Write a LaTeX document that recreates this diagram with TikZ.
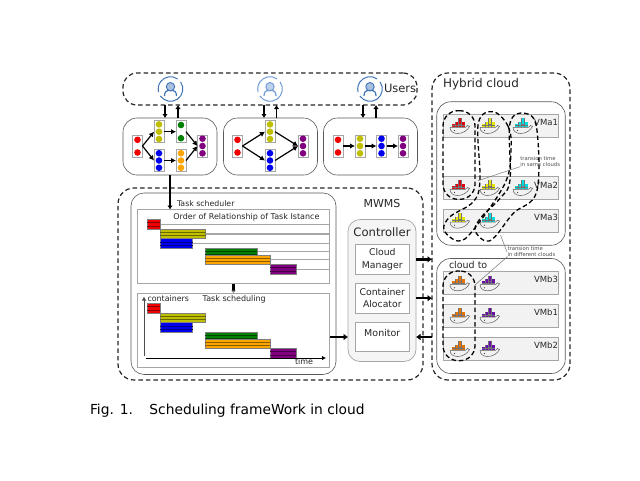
\documentclass[tikz,border=0pt]{standalone}
\usepackage{fontspec}
\setmainfont{DejaVu Sans}
\usetikzlibrary{arrows.meta}
\definecolor{taskred}{HTML}{F00000}
\definecolor{taskyellow}{HTML}{BFBF00}
\definecolor{taskblue}{HTML}{0000F0}
\definecolor{taskgreen}{HTML}{008000}
\definecolor{taskorange}{HTML}{FFA500}
\definecolor{taskpurple}{HTML}{800080}
\definecolor{ringblue}{HTML}{3F73B8}
\definecolor{ringpale}{HTML}{6F9AD6}
\definecolor{softgray}{HTML}{A6A6A6}
\definecolor{whalered}{HTML}{E00010}
\definecolor{whaleyellow}{HTML}{E6E600}
\definecolor{whalecyan}{HTML}{00DDE0}
\definecolor{whaleorange}{HTML}{E87400}
\definecolor{whalepurple}{HTML}{6A10A8}
\tikzset{
	dashbox/.style={draw=black!85, line width=1.2pt, dash pattern=on 4.5pt off 3pt, rounded corners=#1},
	panelbox/.style={draw=black!65, line width=0.6pt, rounded corners=#1},
	framebox/.style={draw=softgray, line width=1pt, fill=white, outer sep=0pt},
	taskbox/.style={draw=softgray, line width=0.7pt, fill=white, minimum width=10pt, minimum height=22pt, inner sep=0pt, outer sep=0pt},
	vmbox/.style={draw=softgray, line width=0.7pt, fill=black!5, minimum width=115pt, minimum height=23pt, inner sep=0pt, outer sep=0pt},
	flow/.style={-{Latex[length=4pt,width=5.5pt]}, line width=1.4pt, black},
	bigflow/.style={-{Latex[length=4.5pt,width=7pt]}, line width=2.4pt, black},
	edge/.style={-{Latex[length=5pt,width=5.5pt]}, line width=1.2pt, black},
	barbox/.style={draw=black!50, line width=0.5pt},
	loopline/.style={draw=black, line width=1.3pt, dash pattern=on 4.5pt off 2.8pt},
	noteline/.style={draw=black!55, line width=0.5pt},
	lbl/.style={inner sep=0pt, outer sep=0pt, font=\fontsize{#1}{#1}\selectfont, text=black!85},
	note/.style={inner sep=0pt, outer sep=0pt, font=\fontsize{5.3}{6.2}\selectfont, text=black!70, align=left},
	usericon/.pic={
		\draw[#1, line width=1pt] (55:12.3pt) arc (55:195:12.3pt);
		\draw[#1, line width=1pt] (215:12.3pt) arc (215:395:12.3pt);
		\draw[#1, line width=1.2pt] (-6,7) .. controls (-6,3) and (-4,1.5) .. (-2.5,1.5) -- (2.5,1.5) .. controls (4,1.5) and (6,3) .. (6,7);
		\draw[#1, fill=#1!45, line width=0.9pt] (0,-2.3) circle (4.2);
	},
	whale/.pic={
		\fill[#1] (-8,-3) rectangle (-5,0);
		\fill[#1] (-5,-5) rectangle (-2,0);
		\fill[#1] (-2,-8.7) rectangle (1.5,0);
		\fill[#1] (1.5,-5) rectangle (4.5,0);
		\draw[black!55, line width=0.25pt] (-8,-1.5) -- (4.5,-1.5) (-2,-3) -- (1.5,-3) (-5,-5) -- (-5,0) (-2,-8.7) -- (-2,0) (1.5,-8.7) -- (1.5,0);
		\draw[black!65, line width=0.5pt] (-10,0.3) -- (5.5,0.3) -- (7.5,-1.5) -- (9.5,-0.6) .. controls (7.5,3.5) and (3,6.5) .. (-2.5,6.5) .. controls (-7,6.5) and (-10,4) .. (-10,0.3);
		\fill[black!75] (-5.5,3.5) circle (0.6);
	},
}
\newcommand{\taskcol}[5]{
	\node[taskbox] (#1) at (#2,#3) {};
	\foreach \d in {#5}
		\fill[#4] (#2,#3+\d) circle (3.3);
}
\newcommand{\ganttbar}[5]{
	\draw[barbox, fill=#5] (#1,#3) rectangle (#2,{#3+#4});
	\draw[#5!55!black, line width=0.5pt] (#1,{#3+#4/3}) -- (#2,{#3+#4/3}) (#1,{#3+2*#4/3}) -- (#2,{#3+2*#4/3});
}
\begin{document}
\begin{tikzpicture}[x=1pt, y=-1pt]
	\useasboundingbox (0,0) rectangle (640,480);
	% users and workflows
	\node[dashbox=14pt, minimum width=294pt, minimum height=32pt, outer sep=0pt] (users) at (270,89) {};
	\path (170.5,89) pic {usericon=ringblue};
	\path (270,89) pic {usericon=ringpale};
	\path (370,89) pic {usericon=ringblue};
	\node[lbl=11.5, anchor=west] (userstxt) at (384,88.5) {Users};
	\node[panelbox=14pt, minimum width=94pt, minimum height=57pt, outer sep=0pt] (wfa) at (170,146.5) {};
	\node[panelbox=14pt, minimum width=94pt, minimum height=57pt, outer sep=0pt] (wfb) at (270.5,146.5) {};
	\node[panelbox=14pt, minimum width=94pt, minimum height=57pt, outer sep=0pt] (wfc) at (370.5,146.5) {};
	\foreach \x/\w in {165/wfa,264/wfb,363/wfc}
		\draw[flow] (\x,0 |- users.south) -- (\x,0 |- \w.north);
	\foreach \x/\w in {178/wfa,276.5/wfb,376/wfc}
		\draw[flow] (\x,0 |- \w.north) -- (\x,0 |- users.south);
	\taskcol{ar}{137.5}{146}{taskred}{-6.2,6.5}
	\taskcol{ay}{159}{131.7}{taskyellow}{-7.3,0,7.3}
	\taskcol{ab}{159}{160.5}{taskblue}{-7.3,0,7.3}
	\taskcol{ag}{181}{131.7}{taskgreen}{-6.7,6.5}
	\taskcol{ao}{181}{160.5}{taskorange}{-7.3,0,7.3}
	\taskcol{ap}{202.5}{146}{taskpurple}{-7.3,0,7.3}
	\path[edge] (ar.east) edge (ay.west) edge (ab.west) (ay.east) edge (ag.west) (ab.east) edge (ao.west) (ag.east) edge (ap.west) (ao.east) edge (ap.west);
	\taskcol{br}{237.5}{146}{taskred}{-6.2,6.5}
	\taskcol{by}{270}{131.7}{taskyellow}{-7.3,0,7.3}
	\taskcol{bb}{270}{160.5}{taskblue}{-7.3,0,7.3}
	\taskcol{bp}{303}{146}{taskpurple}{-7.3,0,7.3}
	\path[edge] (br.east) edge (by.west) edge (bb.west) (by.east) edge (bp.west) (bb.east) edge (bp.west);
	\taskcol{cr}{338}{146}{taskred}{-6.2,6.5}
	\taskcol{cy}{360}{146}{taskyellow}{-7.3,0,7.3}
	\taskcol{cb}{381.5}{146}{taskblue}{-7.3,0,7.3}
	\taskcol{cp}{403}{146}{taskpurple}{-7.3,0,7.3}
	\path[edge] (cr) edge (cy) (cy) edge (cb) (cb) edge (cp);
	% MWMS
	\node[dashbox=16pt, minimum width=305pt, minimum height=192pt, outer sep=0pt] (mwms) at (270.5,284) {};
	\node[panelbox=13pt, minimum width=205pt, minimum height=181.5pt, outer sep=0pt] (sched) at (233.5,283.7) {};
	\node[framebox, minimum width=192pt, minimum height=74.5pt] (order) at (233.5,246.7) {};
	\node[framebox, minimum width=192pt, minimum height=74pt] (timing) at (233.5,330) {};
	\coordinate (schedin) at (170,209.5);
	\draw[flow, line width=1.6pt] (170,0 |- wfa.south) -- (schedin);
	\draw[-{Latex[length=2.5pt,width=6pt,black!45]}, line width=2.8pt, black] (order.south) -- (timing.north);
	\foreach \x/\y/\w in {160/224.3/0.6, 205/233.7/1.6, 192/243.7/0.6, 257/251.3/0.6, 270/259.7/0.6, 296/269.3/0.6}
		\draw[softgray, line width=\w pt] (\x,\y) -- (\x,\y -| order.east);
	\foreach \off in {0,84}{
		\pgfmathsetmacro{\ya}{219.3+\off}
		\pgfmathsetmacro{\yb}{229.3+\off}
		\pgfmathsetmacro{\yc}{238.7+\off}
		\pgfmathsetmacro{\yd}{248.3+\off}
		\pgfmathsetmacro{\ye}{255+\off}
		\pgfmathsetmacro{\yf}{264.3+\off}
		\ganttbar{147.3}{160}{\ya}{10}{taskred}
		\ganttbar{160}{205.5}{\yb}{9.4}{taskyellow}
		\ganttbar{160}{192.5}{\yc}{9.6}{taskblue}
		\ganttbar{205}{257.3}{\yd}{9.6}{taskgreen}
		\ganttbar{205}{270}{\ye}{9.3}{taskorange}
		\ganttbar{270}{296}{\yf}{10}{taskpurple}
	}
	\coordinate (axisv) at (144,356);
	\coordinate (axisvtop) at (144,296.5);
	\coordinate (axish) at (146,358);
	\coordinate (axishend) at (326,358);
	\draw[-{Latex[length=4pt,width=4.5pt]}, line width=1pt, black!70] (axisv) -- (axisvtop);
	\draw[-{Latex[length=4pt,width=4.5pt]}, line width=1pt, black] (axish) -- (axishend);
	\node[lbl=7.8, anchor=west] (schedtxt) at (177,203.7) {Task scheduler};
	\node[lbl=8, anchor=west] (ordertxt) at (173.3,217.7) {Order of Relationship of Task Istance};
	\node[lbl=7.9, anchor=west] (conttxt) at (147.5,299) {containers};
	\node[lbl=8, anchor=west] (tstxt) at (202.7,299) {Task scheduling};
	\node[lbl=8, anchor=west] (timetxt) at (295,362) {time};
	\node[lbl=11, anchor=center] (mwmstxt) at (382,203) {MWMS};
	% controller
	\node[draw=softgray, line width=0.7pt, fill=black!4, rounded corners=12pt, minimum width=68pt, minimum height=142pt, outer sep=0pt] (ctrl) at (382,290.5) {};
	\node[lbl=11.6] (ctrltxt) at (382,231.7) {Controller};
	\node[framebox, line width=0.8pt, minimum width=54.7pt, minimum height=30pt, align=center, inner sep=0pt, font=\fontsize{9.3}{12.5}\selectfont, text=black!85] (cloudmgr) at (382.3,259.3) {Cloud\\Manager};
	\node[framebox, line width=0.8pt, minimum width=54.7pt, minimum height=30pt, align=center, inner sep=0pt, font=\fontsize{9.3}{12.5}\selectfont, text=black!85] (contalloc) at (382.3,298.2) {Container\\Alocator};
	\node[framebox, line width=0.8pt, minimum width=54.7pt, minimum height=29.4pt, inner sep=0pt] (monitor) at (382.3,337) {};
	\node[lbl=9.5] (montxt) at (382.3,333) {Monitor};
	% hybrid cloud
	\node[dashbox=16pt, minimum width=138pt, minimum height=307pt, outer sep=0pt] (hybrid) at (501,226.5) {};
	\node[lbl=12, anchor=west] (hybtxt) at (443,84) {Hybrid cloud};
	\node[panelbox=14pt, minimum width=128.5pt, minimum height=143.5pt, outer sep=0pt] (clouda) at (501,173.5) {};
	\node[panelbox=14pt, minimum width=128.5pt, minimum height=115pt, outer sep=0pt] (cloudb) at (501,316) {};
	\node[lbl=9.5, anchor=west] (cloudtxt) at (449,264.5) {cloud to};
	\foreach \n/\y/\ty/\t in {vaa/125.7/122.3/VMa1, vab/188/185/VMa2, vac/220.8/217.7/VMa3, vbc/282.7/279.3/VMb3, vba/315.8/312.3/VMb1, vbb/348.8/345.3/VMb2}{
		\node[vmbox] (\n) at (500.8,\y) {};
		\node[lbl=8.5, anchor=east] (\n txt) at (558,\ty) {\t};
	}
	\foreach \x/\y/\c in {460/127/whalered, 490/127/whaleyellow, 523/127/whalecyan,
		460/189/whalered, 490/189/whaleyellow, 523/189/whalecyan,
		460/221.7/whaleyellow, 490/221.7/whalecyan,
		460/284.3/whaleorange, 490/284.3/whalepurple,
		460/316.7/whaleorange, 490/316.7/whalepurple,
		460/350/whaleorange, 490/350/whalepurple}
		\path (\x,\y) pic {whale=\c};
	\node[loopline, rounded corners=15pt, minimum width=32pt, minimum height=88.6pt, outer sep=0pt] (loopa) at (459,155) {};
	\node[loopline, rounded corners=15pt, minimum width=32pt, minimum height=89.7pt, outer sep=0pt] (loopb) at (459,315.8) {};
	\draw[loopline] plot[smooth cycle, tension=0.6] coordinates {(493.3,111.7) (508.3,126.7) (511,150) (505,183.3) (473.3,230) (458.3,241) (444,230) (450,216.7) (473.3,201.7) (480,180) (478.3,123.3)};
	\draw[loopline] plot[smooth cycle, tension=0.6] coordinates {(525,113.3) (536.7,128.3) (536.7,191.7) (513.3,213.3) (495,236.7) (485,241) (475,230) (481.7,216.7) (500,198.3) (510,180) (510,123.3)};
	% notes
	\node[note, anchor=north west] (samenote) at (520.3,156.3) {transion time\\in same clouds};
	\node[note, anchor=north west] (diffnote) at (507.5,246.3) {transion time\\in different clouds};
	\coordinate (samefoot) at (478,180.7);
	\coordinate (difffoot) at (475,285);
	\coordinate (difftop) at (500.5,235);
	\draw[noteline] (samefoot) -- (samenote.south west);
	\draw[noteline] (difffoot) -- (diffnote.south west);
	\draw[noteline] (difftop) -- (507,252);
	% links
	\draw[bigflow] (cloudmgr.east -| ctrl.east) -- (cloudmgr.east -| hybrid.west);
	\draw[bigflow] (contalloc.east -| ctrl.east) -- (contalloc.east -| hybrid.west);
	\draw[bigflow] (monitor.east -| hybrid.west) -- (monitor.east -| ctrl.east);
	\draw[bigflow] (monitor.west -| sched.east) ++(-6,0) -- (monitor.west -| ctrl.west);
	\node[lbl=13.8, anchor=west, text=black] (caption) at (90,410.5) {Fig. 1.\hspace{16.5pt}Scheduling frameWork in cloud};
\end{tikzpicture}
\end{document}
